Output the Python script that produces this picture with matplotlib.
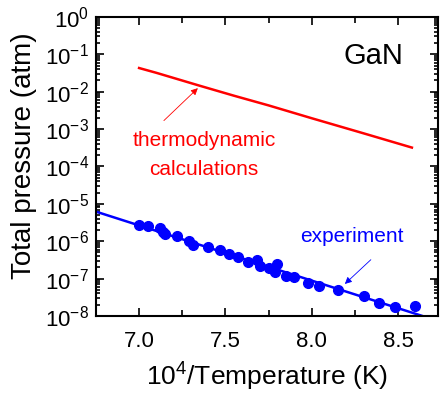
import matplotlib
matplotlib.use('Agg')
import matplotlib.pyplot as plt
from matplotlib.ticker import LogLocator, NullFormatter, FixedLocator

plt.rcParams['font.family'] = ['Liberation Sans', 'DejaVu Sans']
plt.rcParams['mathtext.fontset'] = 'custom'
plt.rcParams['mathtext.rm'] = 'Liberation Sans'

# thermodynamic calculation (red line)
calc_x = [7.00, 7.10, 7.35, 7.55, 7.75, 8.00, 8.30, 8.58]
calc_p = [4.3e-2, 3.2e-2, 1.45e-2, 7.8e-3, 4.3e-3, 1.95e-3, 7.7e-4, 3.2e-4]

# experimental points (blue circles)
exp_x = [7.00, 7.05, 7.12, 7.14, 7.15, 7.22, 7.29, 7.31, 7.40, 7.47,
         7.52, 7.57, 7.63, 7.68, 7.70, 7.75, 7.78, 7.80, 7.79, 7.85,
         7.90, 7.98, 8.04, 8.15, 8.30, 8.39, 8.48, 8.60]
exp_p = [2.65e-6, 2.5e-6, 2.2e-6, 1.75e-6, 1.6e-6, 1.4e-6, 1.0e-6, 7.7e-7, 6.8e-7, 5.9e-7,
         4.6e-7, 3.9e-7, 2.7e-7, 3.2e-7, 2.2e-7, 1.9e-7, 1.65e-7, 2.4e-7, 1.5e-7, 1.2e-7,
         1.1e-7, 7.6e-8, 6.5e-8, 5.0e-8, 3.5e-8, 2.2e-8, 1.7e-8, 1.9e-8]

# linear fit in log scale (blue line)
fit_x = [6.75, 8.75]
fit_p = [6.2e-6, 6.9e-9]

fig = plt.figure(figsize=(4.4, 3.94), dpi=100)
ax = fig.add_axes([0.218, 0.198, 0.777, 0.759])

ax.plot(calc_x, calc_p, color='#ff0000', lw=1.8)
ax.plot(fit_x, fit_p, color='#0000ff', lw=1.8)
ax.plot(exp_x, exp_p, 'o', color='#0000ff', ms=7, mec='#0000ff')

ax.set_yscale('log')
ax.set_xlim(6.75, 8.73)
ax.set_ylim(1e-8, 1)
ax.xaxis.set_major_locator(FixedLocator([7.0, 7.5, 8.0, 8.5]))
ax.xaxis.set_minor_locator(FixedLocator([7.25, 7.75, 8.25]))
ax.set_xticklabels(['7.0', '7.5', '8.0', '8.5'])
ax.yaxis.set_major_locator(LogLocator(base=10, numticks=20))
ax.yaxis.set_minor_locator(LogLocator(base=10, subs=range(2, 10), numticks=20))
ax.yaxis.set_minor_formatter(NullFormatter())

ax.tick_params(which='both', direction='in', top=True, right=True, labelsize=16, width=1.2)
ax.tick_params(which='major', length=6)
ax.tick_params(which='minor', length=3)
ax.tick_params(axis='x', which='minor', length=4)
ax.tick_params(axis='x', pad=11)
ax.tick_params(axis='y', pad=5)
for s in ax.spines.values():
    s.set_linewidth(1.5)

ax.set_xlabel('10$^4$/Temperature (K)', fontsize=19, labelpad=5)
ax.set_ylabel('Total pressure (atm)', fontsize=20)
ax.yaxis.set_label_coords(-0.172, 0.537)

ax.text(8.36, 0.09, 'GaN', fontsize=21, ha='center', va='center')
ax.text(7.375, 5e-4, 'thermodynamic', color='#ff0000', fontsize=15, ha='center', va='center')
ax.text(7.375, 8.3e-5, 'calculations', color='#ff0000', fontsize=15, ha='center', va='center')
ax.text(8.23, 1.3e-6, 'experiment', color='#0000ff', fontsize=15, ha='center', va='center')

ax.annotate('', xy=(7.352, 1.4e-2), xytext=(7.132, 1.5e-3),
            arrowprops=dict(arrowstyle='-|>', color='#ff0000', lw=0.6, mutation_scale=10))
ax.annotate('', xy=(8.18, 6.4e-8), xytext=(8.354, 3.6e-7),
            arrowprops=dict(arrowstyle='-|>', color='#0000ff', lw=0.6, mutation_scale=10))

fig.savefig('out.png', dpi=100)
